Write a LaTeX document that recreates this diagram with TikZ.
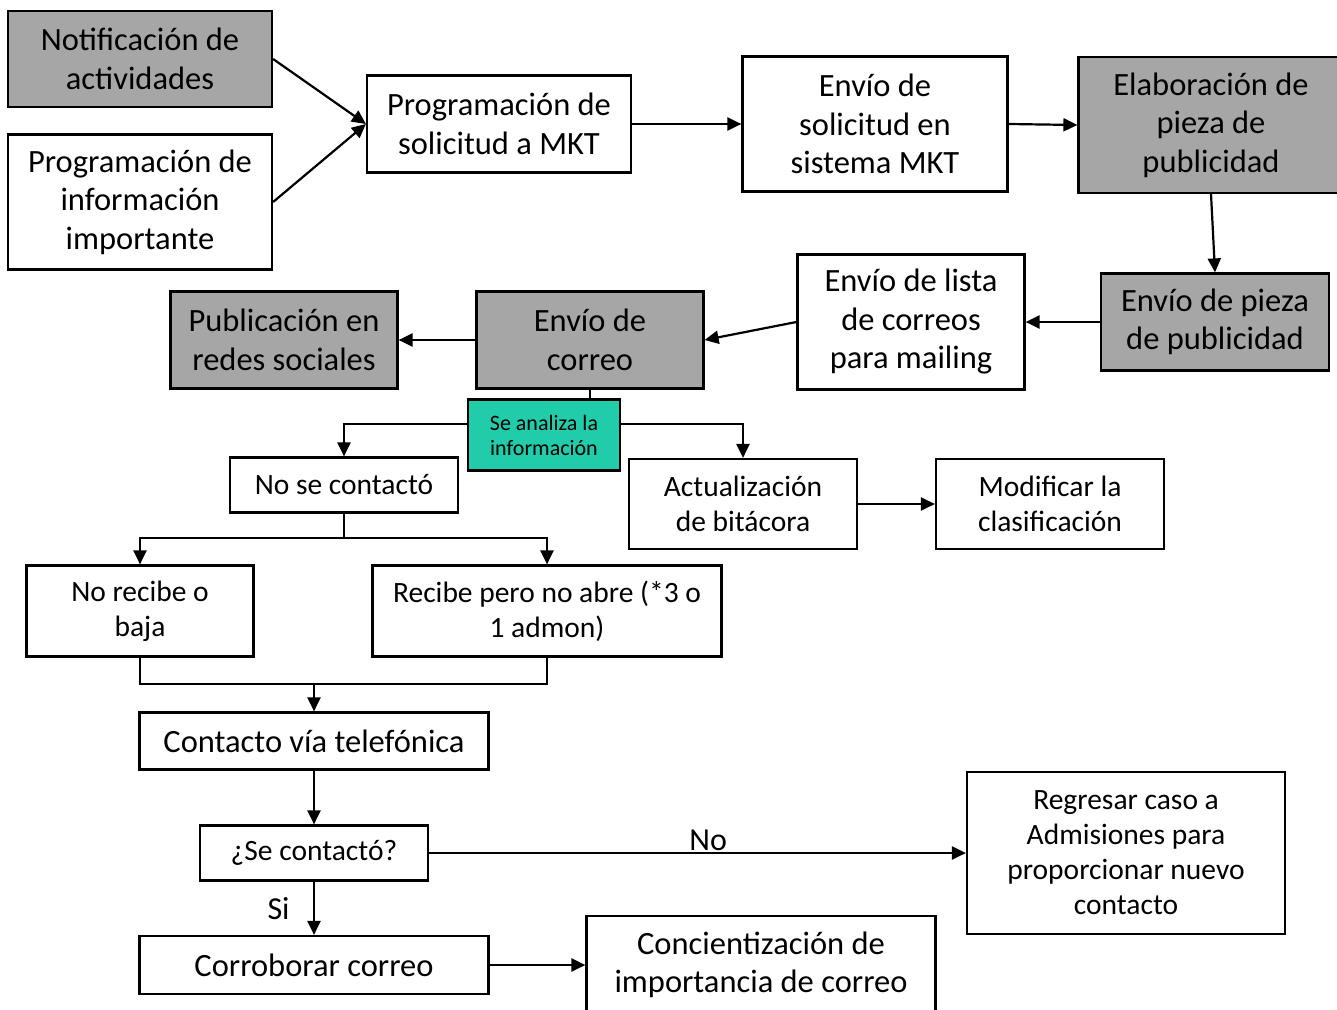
\documentclass[tikz,border=0pt]{standalone}
\usepackage{fontspec}
\setmainfont{Carlito}
\usepackage{xcolor}
\usetikzlibrary{arrows.meta,calc}
\definecolor{grisbox}{HTML}{A6A6A6}
\definecolor{verdebox}{HTML}{20CCAA}
\tikzset{
	caja/.style={
			draw, line width=2.2pt, fill=white, inner sep=0pt, align=center,
			font=\fontsize{32.5}{38.5}\selectfont
		},
	cajagris/.style={caja, fill=grisbox},
	cajaverde/.style={caja, fill=verdebox, font=\fontsize{22}{25}\selectfont},
	medio/.style={font=\fontsize{29.5}{35}\selectfont},
	flecha/.style={line width=2.2pt, -{Triangle[length=14pt,width=13pt]}},
	linea/.style={line width=2.2pt}
}

\begin{document}
\begin{tikzpicture}[x=1pt,y=-1pt]
		\useasboundingbox (0,0) rectangle (1337,1009);

		% fila superior
		\node[cajagris, minimum width=264, minimum height=96]	(notif)	at (140,59)	{Notificación de\\actividades};
		\node[caja, minimum width=264, minimum height=135]	(progInfo)	at (140,202)	{Programación de\\información\\importante};
		\node[caja, minimum width=264, minimum height=97]	(progSol)	at (499,124)	{Programación de\\solicitud a MKT};
		\node[caja, minimum width=265, minimum height=135]	(envSis)	at (875,124)	{Envío de\\solicitud en\\sistema MKT};
		\node[cajagris, minimum width=265, minimum height=136]	(elab)	at (1211,125)	{Elaboración de\\pieza de\\publicidad};

		% segunda fila
		\node[cajagris, minimum width=228, minimum height=97]	(envPieza)	at (1215,322)	{Envío de pieza\\de publicidad};
		\node[caja, minimum width=227, minimum height=135]	(envLista)	at (911,322)	{Envío de lista\\de correos\\para mailing};
		\node[cajagris, minimum width=227, minimum height=97]	(envCorreo)	at (590,340)	{Envío de\\correo};
		\node[cajagris, minimum width=227, minimum height=97]	(pubRedes)	at (284,340)	{Publicación en\\redes sociales};

		% analisis
		\node[cajaverde, minimum width=152, minimum height=71]	(analiza)	at (544,435)	{Se analiza la\\información};
		\node[caja, medio, minimum width=228, minimum height=55]	(noContacto)	at (344,485)	{No se contactó};
		\node[caja, medio, minimum width=228, minimum height=90]	(actBit)	at (743,504)	{Actualización\\de bitácora};
		\node[caja, medio, minimum width=228, minimum height=90]	(modificar)	at (1050,504)	{Modificar la\\clasificación};
		\node[caja, medio, minimum width=227, minimum height=91]	(noRecibe)	at (140,611)	{No recibe o\\baja};
		\node[caja, medio, minimum width=349, minimum height=91]	(recibe)	at (547,611)	{Recibe pero no abre (*3 o\\1 admon)};

		% contacto
		\node[caja, minimum width=349, minimum height=57]	(contactoTel)	at (314,741)	{Contacto vía telefónica};
		\node[caja, medio, minimum width=228, minimum height=55]	(seContacto)	at (314,853)	{¿Se contactó?};
		\node[caja, medio, minimum width=318, minimum height=162]	(regresar)	at (1126,853)	{Regresar caso a\\Admisiones para\\proporcionar nuevo\\contacto};
		\node[caja, minimum width=349, minimum height=58]	(corroborar)	at (314,965)	{Corroborar correo};
		\node[caja, minimum width=349, minimum height=98]	(concient)	at (761,965)	{Concientización de\\importancia de correo};

		\coordinate (division) at (344,538);
		\coordinate (junta) at (314,684);

		\draw[flecha]	(notif.east) -- (progSol.west);
		\draw[flecha]	(progInfo.east) -- (progSol.west);
		\draw[flecha]	(progSol.east) -- (envSis.west);
		\draw[flecha]	(envSis.east) -- (elab.west);
		\draw[flecha]	(elab.south) -- (envPieza.north);
		\draw[flecha]	(envPieza.west) -- (envLista.east);
		\draw[flecha]	(envLista.west) -- (envCorreo.east);
		\draw[flecha]	(envCorreo.west) -- (pubRedes.east);

		\draw[linea]	(envCorreo.south) -- (envCorreo.south |- analiza.north);
		\draw[flecha]	([yshift=11pt]analiza.west) -| (noContacto.north);
		\draw[flecha]	([yshift=11pt]analiza.east) -| (actBit.north);
		\draw[flecha]	(actBit.east) -- (modificar.west);

		\draw[linea]	(noContacto.south) -- (division);
		\draw[flecha]	(division) -| (noRecibe.north);
		\draw[flecha]	(division) -| (recibe.north);

		\draw[linea]	(noRecibe.south) |- (junta) -| (recibe.south);
		\draw[flecha]	(junta) -- (contactoTel.north);
		\draw[flecha]	(contactoTel.south) -- (seContacto.north);
		\draw[flecha]	(seContacto.east) to node[pos=0.52, above=-2pt, font=\fontsize{32}{38.5}\selectfont]{No} (regresar.west);
		\draw[flecha]	(seContacto.south) to node[left=20pt, font=\fontsize{32}{38.5}\selectfont]{Si} (corroborar.north);
		\draw[flecha]	(corroborar.east) -- (concient.west);
	\end{tikzpicture}
\end{document}
